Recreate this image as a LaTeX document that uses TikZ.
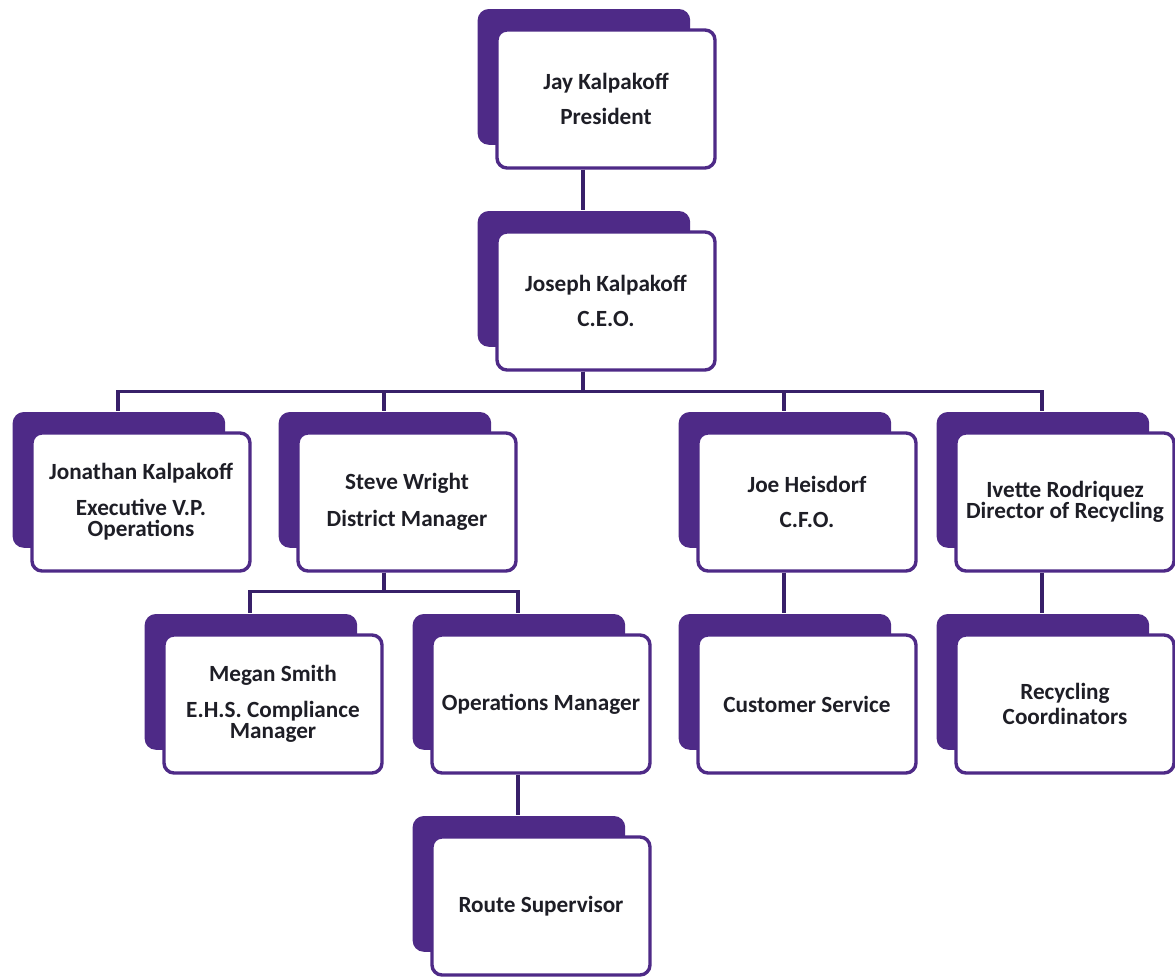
\documentclass[tikz,border=0pt]{standalone}
\usepackage{fontspec}
\setmainfont{Carlito}
\usepackage{tikz}
\usetikzlibrary{shadows}

\definecolor{cardpurple}{RGB}{78,42,135}
\definecolor{linkpurple}{RGB}{56,32,105}
\definecolor{inktext}{RGB}{30,30,38}

\tikzset{
  card/.style={rectangle, rounded corners=5pt, draw=cardpurple, line width=1.7pt,
    fill=white, minimum width=109pt, minimum height=69pt, align=center,
    text=inktext, font=\fontsize{11.6}{10.8}\selectfont\bfseries,
    copy shadow={shadow xshift=-11.5pt, shadow yshift=11.5pt, shadow scale=0.96,
      fill=cardpurple, draw=cardpurple}},
  link/.style={draw=linkpurple, line width=1.7pt}
}

\begin{document}
\begin{tikzpicture}[x=0.5pt, y=-0.5pt]
  \useasboundingbox (0,0) rectangle (1175,977);
  % Top of the chart
  \node[card] (pres) at (606,99) {Jay Kalpakoff\\[7pt]President};
  \node[card] (ceo) at (606,301) {Joseph Kalpakoff\\[7pt]C.E.O.};
  % Second row
  \node[card] (jon) at (141,502) {Jonathan Kalpakoff\\[7pt]Executive V.P.\\Operations};
  \node[card] (steve) at (407,502) {Steve Wright\\[8pt]District Manager};
  \node[card] (joe) at (807,502) {Joe Heisdorf\\[7pt]C.F.O.};
  \node[card] (ivette) at (1065,502) {Ivette Rodriquez\\Director of Recycling};
  % Third row
  \node[card] (megan) at (273,704) {Megan Smith\\[7pt]E.H.S. Compliance\\Manager};
  \node[card] (ops) at (541,704) {Operations Manager};
  \node[card] (cust) at (807,704) {Customer Service};
  \node[card] (recyc) at (1065,704) {Recycling\\[2pt]Coordinators};
  % Bottom
  \node[card] (route) at (541,906) {Route Supervisor};

  % Connectors
  \draw[link] ([xshift=-11.5pt]pres.south) -- ([xshift=-11.5pt,yshift=10pt]ceo.north);
  \foreach \c in {jon, steve, joe, ivette}
    \draw[link] ([xshift=-11.5pt]ceo.south) -- ++(0,20) -| ([xshift=-11.5pt,yshift=10pt]\c.north);
  \foreach \c in {megan, ops}
    \draw[link] ([xshift=-11.5pt]steve.south) -- ++(0,19) -| ([xshift=-11.5pt,yshift=10pt]\c.north);
  \draw[link] ([xshift=-11.5pt]joe.south) -- ([xshift=-11.5pt,yshift=10pt]cust.north);
  \draw[link] ([xshift=-11.5pt]ivette.south) -- ([xshift=-11.5pt,yshift=10pt]recyc.north);
  \draw[link] ([xshift=-11.5pt]ops.south) -- ([xshift=-11.5pt,yshift=10pt]route.north);
\end{tikzpicture}
\end{document}
